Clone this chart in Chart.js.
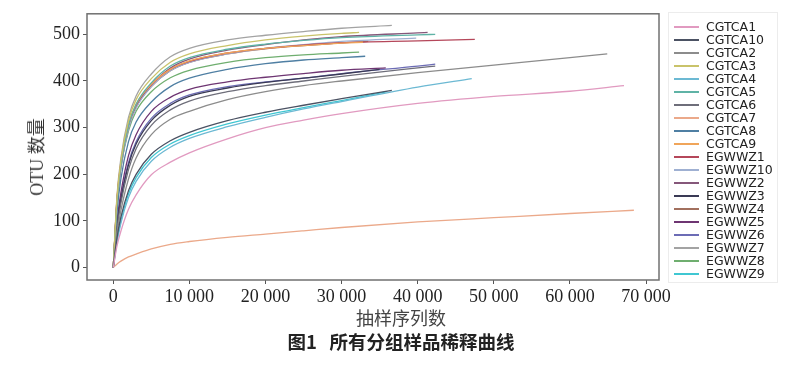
<!DOCTYPE html>
<html>
<head>
<meta charset="utf-8">
<script src="https://cdn.jsdelivr.net/npm/chart.js@4.4.1/dist/chart.umd.min.js"></script>
<style>
  html, body { margin: 0; padding: 0; background: #fff; }
  #wrap { position: relative; width: 800px; height: 367px; overflow: hidden; }
  #chart { position: absolute; left: 0; top: 0; }
  .txt { position: absolute; white-space: nowrap; color: #333; font-family: 'Liberation Serif', 'Noto Sans CJK SC', serif; }
  #ytitle { left: 35px; top: 157px; font-size: 18px; transform: translate(-50%, -50%) rotate(-90deg); }
  #xtitle { left: 401px; top: 317px; font-size: 18px; transform: translate(-50%, -50%); color: #444; }
  #caption { left: 401px; top: 341px; font-size: 18.5px; font-weight: bold; transform: translate(-50%, -50%);
             font-family: 'Noto Sans CJK SC', 'DejaVu Sans', sans-serif; color: #222; }
  #legend { position: absolute; left: 668px; top: 12px; width: 110px; height: 271px; box-sizing: border-box;
            border: 1px solid #ececec; padding-top: 7px; font-family: 'DejaVu Sans', sans-serif; font-size: 12.5px; color: #222; }
  .lg-row { position: relative; height: 13px; line-height: 13px; }
  .lg-line { position: absolute; left: 5px; top: 6px; width: 25px; height: 1.5px; }
  .lg-text { position: absolute; left: 37px; top: 0; }
</style>
</head>
<body>
<div id="wrap">
  <canvas id="chart" width="800" height="367"></canvas>
  <div class="txt" id="ytitle">OTU 数量</div>
  <div class="txt" id="xtitle">抽样序列数</div>
  <div class="txt" id="caption">图1&nbsp;&nbsp;&nbsp;所有分组样品稀释曲线</div>
  <div id="legend"></div>
</div>
<script>
  // sample names, in legend order
  const seriesNames = ['CGTCA1', 'CGTCA10', 'CGTCA2', 'CGTCA3', 'CGTCA4', 'CGTCA5', 'CGTCA6', 'CGTCA7', 'CGTCA8', 'CGTCA9',
    'EGWWZ1', 'EGWWZ10', 'EGWWZ2', 'EGWWZ3', 'EGWWZ4', 'EGWWZ5', 'EGWWZ6', 'EGWWZ7', 'EGWWZ8', 'EGWWZ9'];

  const seriesColors = ['#e19ac0', '#4b5263', '#8c8c8c', '#c9c36a', '#6cb9d3', '#5fb3a6', '#6e6e7a', '#eba98a', '#4f7fa3', '#f0a55a',
    '#b5475a', '#9fb0d2', '#85577a', '#3a3a55', '#a2705e', '#6e3572', '#6c6cb5', '#a3a3a3', '#6fae6f', '#3fc7d2'];

  // sequencing depth where each curve was read
  const depthGrid = [0, 500, 1000, 2000, 3000, 5000, 7500, 10000, 15000, 20000, 25000, 30000, 40000, 50000, 60000];

  // last depth of each curve
  const endDepth = [67100, 36600, 64900, 32300, 47100, 42300, 42300, 68400, 33100, 32800,
    47500, 39800, 41300, 35000, 33500, 35800, 42300, 36600, 32300, 36000];

  // OTU counts on depthGrid (up to the end), last value is at endDepth
  const otuValues = [
    [0, 47, 78, 125, 156, 199, 226, 246, 276, 300, 316, 330, 352, 367, 378, 390],
    [0, 65, 108, 165, 200, 243, 272, 290, 315, 333, 348, 362, 380],
    [0, 75, 122, 190, 235, 285, 318, 335, 360, 377, 390, 400, 418, 434, 450, 458],
    [0, 150, 228, 315, 360, 405, 440, 458, 476, 488, 496, 502, 504],
    [0, 55, 95, 150, 185, 228, 258, 277, 302, 322, 340, 356, 387, 405],
    [0, 145, 220, 305, 350, 396, 432, 450, 468, 479, 487, 493, 499, 500],
    [0, 85, 138, 210, 255, 305, 338, 357, 377, 390, 400, 410, 428, 432],
    [0, 8, 14, 23, 29, 40, 50, 56, 65, 72, 79, 86, 98, 107, 116, 123],
    [0, 120, 190, 270, 312, 355, 388, 406, 425, 437, 445, 450, 453],
    [0, 150, 225, 307, 350, 393, 425, 443, 460, 470, 476, 481, 483],
    [0, 148, 222, 305, 348, 392, 425, 442, 460, 470, 477, 482, 486, 489],
    [0, 140, 214, 298, 342, 388, 422, 440, 458, 470, 478, 485, 492],
    [0, 140, 215, 300, 345, 392, 428, 447, 466, 478, 488, 495, 503, 504],
    [0, 90, 145, 220, 265, 315, 348, 367, 385, 397, 406, 415, 425],
    [0, 142, 218, 300, 344, 388, 422, 440, 458, 469, 476, 482, 485],
    [0, 100, 160, 240, 285, 335, 365, 382, 398, 408, 416, 423, 428],
    [0, 95, 150, 225, 270, 320, 352, 370, 388, 398, 406, 416, 432, 436],
    [0, 156, 234, 322, 368, 415, 452, 470, 488, 498, 506, 513, 519],
    [0, 145, 215, 293, 335, 377, 407, 423, 440, 450, 456, 460, 462],
    [0, 60, 100, 158, 193, 236, 265, 283, 308, 327, 343, 358, 377]
  ];

  const xTicks = [0, 10000, 20000, 30000, 40000, 50000, 60000, 70000];
  const yTicks = [0, 100, 200, 300, 400, 500];

  function toPoints(vals, end) {
    return vals.map(function (v, i) {
      return { x: i === vals.length - 1 ? end : depthGrid[i], y: v };
    });
  }

  function spaced(v) {
    return String(v).replace(/\B(?=(\d{3})+(?!\d))/g, ' ');
  }

  // legend as html
  const legendEl = document.getElementById('legend');
  legendEl.innerHTML = seriesNames.map(function (n, i) {
    return '<div class="lg-row"><span class="lg-line" style="background:' + seriesColors[i] + '"></span>' +
      '<span class="lg-text">' + n + '</span></div>';
  }).join('');

  // axes box on all four sides
  const framePlugin = {
    id: 'frame',
    afterDatasetsDraw: function (chart) {
      const a = chart.chartArea;
      const ctx = chart.ctx;
      ctx.save();
      ctx.strokeStyle = '#707070';
      ctx.lineWidth = 1.5;
      ctx.strokeRect(a.left, a.top, a.right - a.left, a.bottom - a.top);
      ctx.restore();
    }
  };

  const tickFont = { family: "'Liberation Serif', 'Times New Roman', serif", size: 18 };

  new Chart(document.getElementById('chart').getContext('2d'), {
    type: 'line',
    data: {
      datasets: seriesNames.map(function (n, i) {
        return {
          label: n,
          data: toPoints(otuValues[i], endDepth[i]),
          borderColor: seriesColors[i],
          backgroundColor: seriesColors[i],
          borderWidth: 1.3,
          pointRadius: 0,
          fill: false,
          cubicInterpolationMode: 'monotone'
        };
      })
    },
    options: {
      responsive: false,
      animation: false,
      devicePixelRatio: 1,
      layout: { padding: { top: 13, right: 141, bottom: 0, left: 0 } },
      plugins: { legend: { display: false }, tooltip: { enabled: false } },
      scales: {
        x: {
          type: 'linear',
          min: -3450,
          max: 71700,
          afterFit: function (s) { s.height = 87; },
          afterBuildTicks: function (s) { s.ticks = xTicks.map(function (v) { return { value: v }; }); },
          grid: { drawOnChartArea: false, drawTicks: true, tickLength: 4, color: '#555' },
          border: { display: false },
          ticks: { font: tickFont, color: '#222', padding: 2, maxRotation: 0, callback: function (v) { return spaced(v); } }
        },
        y: {
          type: 'linear',
          min: -26.5,
          max: 544,
          afterFit: function (s) { s.width = 87; },
          afterBuildTicks: function (s) { s.ticks = yTicks.map(function (v) { return { value: v }; }); },
          grid: { drawOnChartArea: false, drawTicks: true, tickLength: 4, color: '#555' },
          border: { display: false },
          ticks: { font: tickFont, color: '#222', padding: 3 }
        }
      }
    },
    plugins: [framePlugin]
  });
</script>
</body>
</html>
